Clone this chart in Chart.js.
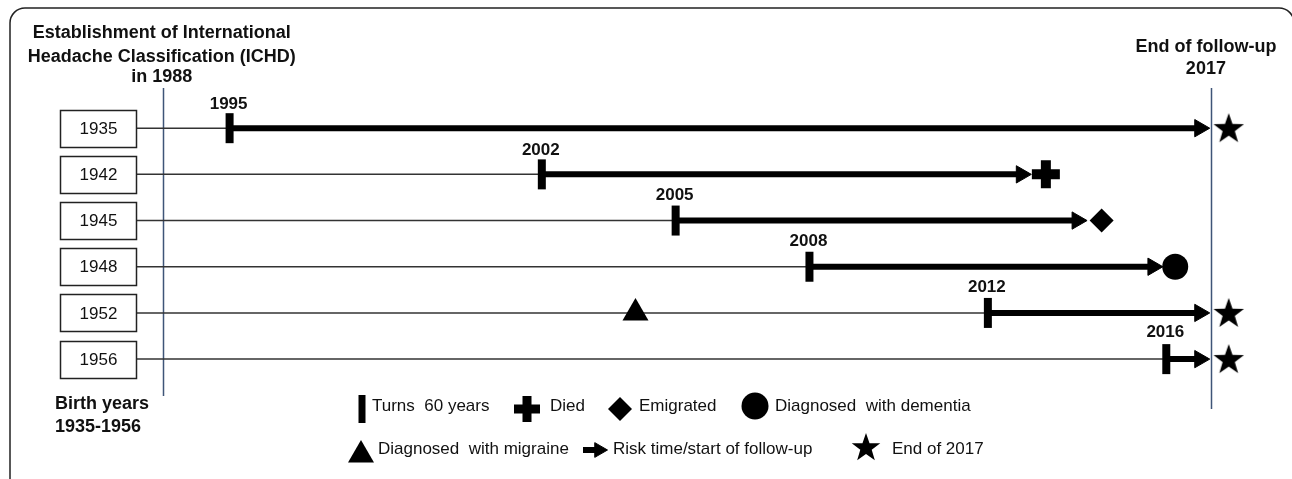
<!DOCTYPE html>
<html lang="en">
<head>
<meta charset="UTF-8">
<title>Follow-up timeline</title>
<style>
  body { margin: 0; background: #fff; overflow: hidden; }
  #wrap { position: relative; width: 1292px; height: 479px; }
</style>
</head>
<body>
<div id="wrap"><canvas id="timeline"></canvas></div>

<script src="https://cdn.jsdelivr.net/npm/chart.js"></script>
<script>
// one row per birth cohort
const birthYears    = [1935, 1942, 1945, 1948, 1952, 1956];
const turns60       = [1995, 2002, 2005, 2008, 2012, 2016];
const arrowEnds     = [2016.75, 2012.75, 2014.0, 2015.7, 2016.75, 2016.75];
const outcomes      = ['end', 'died', 'emigrated', 'dementia', 'end', 'end'];
const outcomeYears  = [2017.4, 2013.3, 2014.55, 2016.2, 2017.4, 2017.4];
const migraineRows  = [1952];
const migraineYears = [2004.1];
const ichdYear = 1988;
const followUpEnd = 2017;

const INK = '#111';
const BLUE = '#3f5578';
const FONT = '"Liberation Sans", Arial, sans-serif';

// years before 1995 are squeezed (schematic axis)
const BREAK = 1995, SQUEEZE = 0.214;
const warp = v => v >= BREAK ? v : BREAK - (BREAK - v) * SQUEEZE;

class WarpScale extends Chart.LinearScale {
  configure() {
    super.configure();
    this._startValue = warp(this.min);
    this._endValue = warp(this.max);
    this._valueRange = this._endValue - this._startValue;
  }
  getPixelForValue(value) {
    return value === null ? NaN : super.getPixelForValue(warp(value));
  }
}
WarpScale.id = 'warp';
WarpScale.defaults = Chart.LinearScale.defaults;
Chart.register(WarpScale);

function starImage(R) {
  const c = document.createElement('canvas');
  const s = Math.ceil(R * 2) + 2;
  c.width = c.height = s;
  const g = c.getContext('2d');
  g.translate(s / 2, s / 2 + 1);
  g.beginPath();
  for (let i = 0; i < 10; i++) {
    const r = i % 2 ? R * 0.4 : R;
    const a = -Math.PI / 2 + i * Math.PI / 5;
    g.lineTo(Math.cos(a) * r, Math.sin(a) * r);
  }
  g.closePath();
  g.fillStyle = '#000';
  g.fill();
  return c;
}
const star = starImage(16);
const starSmall = starImage(15);

const markerStyle = {
  died:      { pointStyle: 'cross',   pointRadius: 14,  pointBorderWidth: 10 },
  emigrated: { pointStyle: 'rectRot', pointRadius: 12,  pointBorderWidth: 0 },
  dementia:  { pointStyle: 'circle',  pointRadius: 13,  pointBorderWidth: 0 },
  end:       { pointStyle: star,      pointRadius: 14,  pointBorderWidth: 0 }
};

const datasets = [];

// outcome markers (drawn on top)
Object.keys(markerStyle).forEach(k => {
  const pts = [];
  outcomes.forEach((o, i) => { if (o === k) pts.push({ x: outcomeYears[i], y: i }); });
  datasets.push(Object.assign({
    data: pts, showLine: false, clip: false,
    pointBackgroundColor: '#000', pointBorderColor: '#000'
  }, markerStyle[k]));
});

// migraine diagnosis
datasets.push({
  data: migraineYears.map((x, i) => ({ x: x, y: birthYears.indexOf(migraineRows[i]) })),
  showLine: false, clip: false,
  pointStyle: 'triangle', pointRadius: 15, pointBorderWidth: 0,
  pointBackgroundColor: '#000'
});

// risk time: thick arrow from 60th birthday
birthYears.forEach((b, i) => {
  datasets.push({
    data: [{ x: turns60[i], y: i }, { x: arrowEnds[i], y: i }],
    borderColor: '#000', borderWidth: 6,
    pointStyle: ['line', 'triangle'], pointRadius: [15, 10],
    pointRotation: 90, pointBorderWidth: [8, 1],
    pointBackgroundColor: '#000', pointBorderColor: '#000',
    clip: false
  });
});

// thin line from birth up to 60th birthday
birthYears.forEach((b, i) => {
  datasets.push({
    data: [{ x: b, y: i }, { x: turns60[i], y: i }],
    borderColor: '#333', borderWidth: 1.5, pointRadius: 0, clip: 0
  });
});

const drawTimeline = {
  id: 'drawTimeline',
  beforeDatasetsDraw(chart) {
    const { ctx, chartArea, scales: { x } } = chart;
    ctx.save();
    ctx.strokeStyle = BLUE;
    ctx.lineWidth = 1.5;
    const x1 = Math.round(x.getPixelForValue(ichdYear)) + 0.5;
    const x2 = Math.round(x.getPixelForValue(followUpEnd)) + 0.5;
    ctx.beginPath();
    ctx.moveTo(x1, chartArea.top); ctx.lineTo(x1, chartArea.bottom - 13);
    ctx.moveTo(x2, chartArea.top); ctx.lineTo(x2, chartArea.bottom);
    ctx.stroke();
    ctx.restore();
  },
  afterDatasetsDraw(chart) {
    const { ctx, chartArea, scales: { x, y } } = chart;
    ctx.save();

    // frame (right edge runs off the page)
    ctx.strokeStyle = '#222';
    ctx.lineWidth = 1.5;
    ctx.beginPath();
    ctx.moveTo(10, 500);
    ctx.arcTo(10, 8, 30, 8, 15);
    ctx.arcTo(1294, 8, 1294, 30, 15);
    ctx.lineTo(1294, 500);
    ctx.stroke();

    // birth year boxes
    ctx.font = '17px ' + FONT;
    ctx.textAlign = 'center';
    ctx.textBaseline = 'middle';
    birthYears.forEach((b, i) => {
      const yy = y.getPixelForValue(i);
      ctx.fillStyle = '#fff';
      ctx.fillRect(60, yy - 18.5, chartArea.left - 60, 37);
      ctx.strokeStyle = '#222';
      ctx.strokeRect(60.5, Math.round(yy - 18.5) + 0.5, chartArea.left - 61, 37);
      ctx.fillStyle = INK;
      ctx.fillText(String(b), (60 + chartArea.left) / 2, yy + 1);
    });

    // 60th birthday labels
    ctx.font = 'bold 17px ' + FONT;
    ctx.textBaseline = 'alphabetic';
    turns60.forEach((t, i) => {
      ctx.fillText(String(t), x.getPixelForValue(t) - 1, y.getPixelForValue(i) - 19 - i * 0.6);
    });

    // headers
    ctx.font = 'bold 18px ' + FONT;
    const cx1 = x.getPixelForValue(ichdYear) - 1;
    ctx.fillText('Establishment of International', cx1, 38);
    ctx.fillText('Headache Classification (ICHD)', cx1, 61.5);
    ctx.fillText('in ' + ichdYear, cx1, 82);
    const cx2 = x.getPixelForValue(followUpEnd) - 5;
    ctx.fillText('End of follow-up', cx2, 52);
    ctx.fillText(String(followUpEnd), cx2, 74);
    ctx.textAlign = 'left';
    ctx.fillText('Birth years', 55, 409);
    ctx.fillText(birthYears[0] + '-' + birthYears[birthYears.length - 1], 55, 432);

    // legend
    const mark = (style, px, py, r, rot, bw) => {
      ctx.save();
      ctx.fillStyle = '#000';
      ctx.strokeStyle = '#000';
      ctx.lineWidth = bw;
      Chart.helpers.drawPoint(ctx, { pointStyle: style, radius: r, rotation: rot, borderWidth: bw }, px, py);
      ctx.restore();
    };
    ctx.font = '17px ' + FONT;
    ctx.fillStyle = INK;
    mark('line', 362, 409, 14, 90, 7);
    ctx.fillText('Turns  60 years', 372, 411);
    mark('cross', 527, 409, 13, 0, 9);
    ctx.fillText('Died', 550, 411);
    mark('rectRot', 620, 409, 12, 0, 0);
    ctx.fillText('Emigrated', 639, 411);
    mark('circle', 755, 406, 13.5, 0, 0);
    ctx.fillText('Diagnosed  with dementia', 775, 411);

    mark('triangle', 361, 455, 15, 0, 0);
    ctx.fillText('Diagnosed  with migraine', 378, 454);
    ctx.save();
    ctx.strokeStyle = '#000';
    ctx.lineWidth = 6;
    ctx.beginPath(); ctx.moveTo(583, 450); ctx.lineTo(598, 450); ctx.stroke();
    ctx.restore();
    mark('triangle', 599, 450, 8.5, 90, 1);
    ctx.fillText('Risk time/start of follow-up', 613, 454);
    mark(starSmall, 866, 447, 14, 0, 0);
    ctx.fillText('End of ' + followUpEnd, 892, 454);

    ctx.restore();
  }
};

new Chart(document.getElementById('timeline'), {
  type: 'line',
  data: { datasets: datasets },
  options: {
    responsive: true,
    maintainAspectRatio: false,
    animation: false,
    events: [],
    layout: { padding: { left: 137, top: 88, right: 36.5, bottom: 70 } },
    scales: {
      x: { type: 'warp', min: 1985.3, max: 2018, bounds: 'data', display: false },
      y: { type: 'linear', min: -0.87, max: 6.08, reverse: true, bounds: 'data', display: false }
    },
    plugins: { legend: { display: false }, tooltip: { enabled: false } }
  },
  plugins: [drawTimeline]
});
</script>
</body>
</html>
